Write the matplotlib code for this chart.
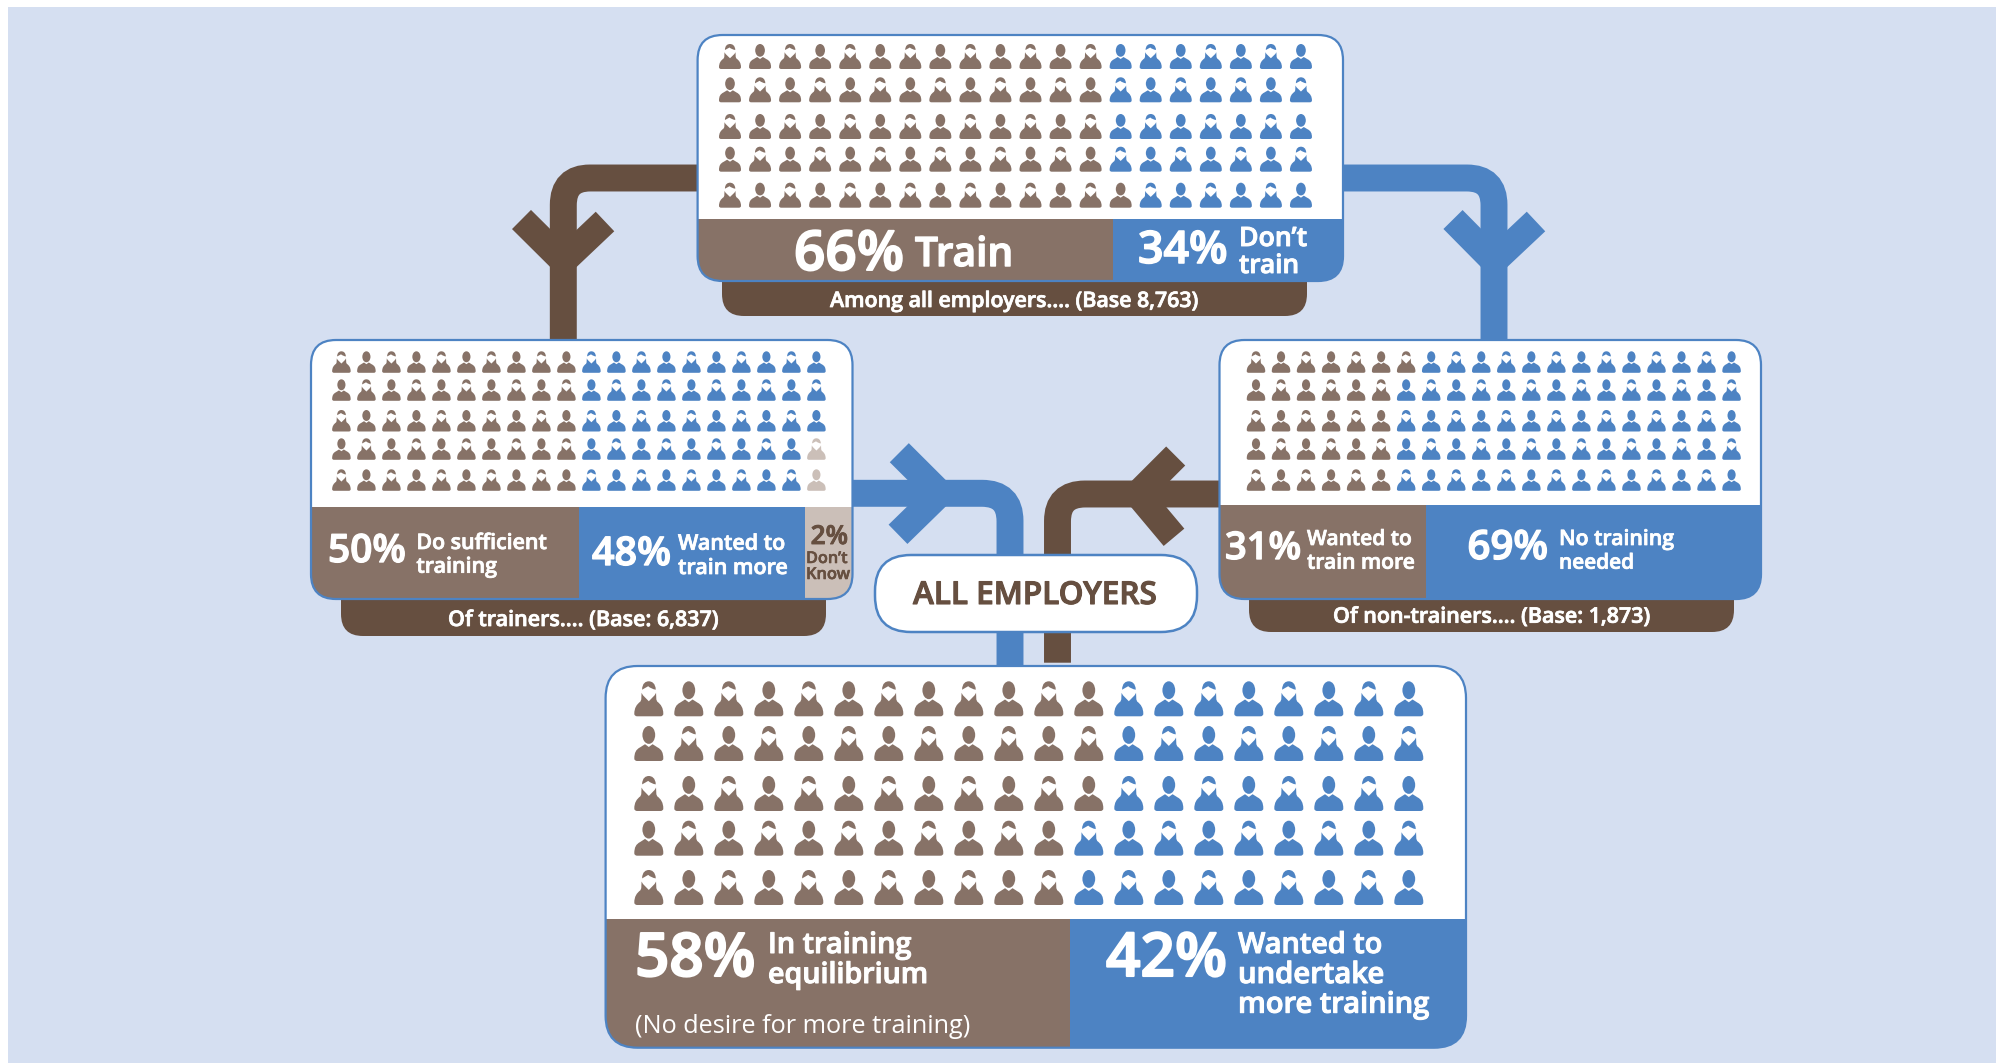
import matplotlib
matplotlib.use("Agg")
import matplotlib.pyplot as plt
import matplotlib.patheffects as pe
from matplotlib.patches import FancyBboxPatch, PathPatch, Rectangle
from matplotlib.path import Path
from matplotlib.transforms import Affine2D

# icons per row in each colour (20 columns, 5 rows)
TOP_BROWN = [13, 13, 13, 13, 14]
TOP_BLUE = [7, 7, 7, 7, 6]
LEFT_BROWN = [10, 10, 10, 10, 10]
LEFT_BLUE = [10, 10, 10, 9, 9]
LEFT_GREY = [0, 0, 0, 1, 1]
RIGHT_BROWN = [7, 6, 6, 6, 6]
RIGHT_BLUE = [13, 14, 14, 14, 14]
BOTTOM_BROWN = [12, 12, 12, 11, 11]
BOTTOM_BLUE = [8, 8, 8, 9, 9]

TOP_LABELS = ["66%", "Train", "34%", "Don’t", "train"]
LEFT_LABELS = ["50%", "Do sufficient", "training", "48%", "Wanted to", "train more"]
LEFT_GREY_LABELS = ["2%", "Don’t", "Know"]
RIGHT_LABELS = ["31%", "Wanted to", "train more", "69%", "No training", "needed"]
BOTTOM_LABELS = ["58%", "In training", "equilibrium", "42%", "Wanted to", "undertake", "more training"]
BOTTOM_NOTE = "(No desire for more training)"
TOP_BASE = "Among all employers.... (Base 8,763)"
LEFT_BASE = "Of trainers.... (Base: 6,837)"
RIGHT_BASE = "Of non-trainers.... (Base: 1,873)"
CENTRE_LABEL = "ALL EMPLOYERS"

BG = "#D5DFF1"
DARK = "#664F40"
BROWN = "#877267"
BLUE = "#4D83C3"
GREY = "#CBBFB8"
FONT = "Open Sans"

M, L, C3, C4, Z = Path.MOVETO, Path.LINETO, Path.CURVE3, Path.CURVE4, Path.CLOSEPOLY

fig = plt.figure(figsize=(19.96, 10.63), dpi=100)
ax = fig.add_axes([0, 0, 1, 1])
ax.set_xlim(0, 1996)
ax.set_ylim(1063, 0)
ax.axis("off")
renderer = fig.canvas.get_renderer()

ax.add_patch(Rectangle((8, 7), 1988, 1056, fc=BG, ec="none", zorder=0))


def make_man():
    head = Path.unit_circle().transformed(Affine2D().scale(0.22, 0.255).translate(0, 0.255))
    body = Path(
        [(-0.5, 0.93), (-0.5, 0.76), (-0.44, 0.67), (-0.3, 0.61), (-0.13, 0.52), (0, 0.6),
         (0.13, 0.52), (0.3, 0.61), (0.44, 0.67), (0.5, 0.76), (0.5, 0.93),
         (0.5, 1), (0.4, 1), (-0.4, 1), (-0.5, 1), (-0.5, 0.93), (-0.5, 0.93)],
        [M, C4, C4, C4, L, L, L, L, C4, C4, C4, C3, C3, L, C3, C3, Z],
    )
    return Path.make_compound_path(head, body)


def make_woman():
    cap = Path(
        [(-0.23, 0.24), (-0.23, 0.05), (-0.1, 0), (0, 0), (0.1, 0), (0.23, 0.05), (0.24, 0.24),
         (0.08, 0.22), (-0.02, 0.14), (-0.23, 0.24), (-0.23, 0.24)],
        [M, C4, C4, C4, C4, C4, C4, C3, C3, L, Z],
    )
    body = Path(
        [(-0.5, 0.93), (-0.5, 0.76), (-0.42, 0.66), (-0.29, 0.58), (-0.26, 0.52), (-0.25, 0.33),
         (-0.2, 0.4), (0, 0.57), (0.2, 0.4), (0.25, 0.33), (0.26, 0.52), (0.29, 0.58),
         (0.42, 0.66), (0.5, 0.76), (0.5, 0.93), (0.5, 1), (0.4, 1), (-0.4, 1), (-0.5, 1),
         (-0.5, 0.93), (-0.5, 0.93)],
        [M, C4, C4, C4, L, L, L, L, L, L, L, L, C4, C4, C4, C3, C3, L, C3, C3, Z],
    )
    return Path.make_compound_path(cap, body)


MAN = make_man()
WOMAN = make_woman()


def icons(x_first, pitch, tops, w, h, groups):
    # groups is a list of (counts per row, colour)
    for r, top in enumerate(tops):
        colours = []
        for counts, colour in groups:
            colours += [colour] * counts[r]
        for c, colour in enumerate(colours):
            shape = WOMAN if (r + c) % 2 == 0 else MAN
            tr = Affine2D().scale(w, h).translate(x_first + c * pitch, top)
            ax.add_patch(PathPatch(shape.transformed(tr), fc=colour, ec="none", zorder=5))


def panel(x0, x1, y0, y1, divider, splits, tab=None, r=25):
    if tab is not None:
        ax.add_patch(FancyBboxPatch((tab[0], y1 - 40), tab[1] - tab[0], tab[2] - y1 + 40,
                                    boxstyle="round,pad=0,rounding_size=22",
                                    fc=DARK, ec="none", zorder=2))
    box = FancyBboxPatch((x0, y0), x1 - x0, y1 - y0, boxstyle=f"round,pad=0,rounding_size={r}",
                         fc="white", ec="none", zorder=3)
    ax.add_patch(box)
    for a, b, colour in splits:
        band = Rectangle((a, divider), b - a, y1 - divider, fc=colour, ec="none", zorder=4)
        ax.add_patch(band)
        band.set_clip_path(box)
    ax.add_patch(FancyBboxPatch((x0, y0), x1 - x0, y1 - y0,
                                boxstyle=f"round,pad=0,rounding_size={r}",
                                fc="none", ec=BLUE, lw=1.6, zorder=6))


def pipe(points, codes, colour):
    ax.add_patch(PathPatch(Path(points, codes), fc="none", ec=colour, lw=19.4,
                           capstyle="butt", joinstyle="miter", zorder=1))


def put(x0, x1, base, s, colour="white", weight="semibold"):
    # font size is fitted so the text spans x0..x1, a thin stroke adds the missing weight
    t = ax.text(x0, base, s, color=colour, family=FONT, weight=weight, fontsize=20,
                ha="left", va="baseline", zorder=7)
    width = t.get_window_extent(renderer).width
    size = 20 * (x1 - x0) / width
    t.set_fontsize(size)
    if weight == "semibold":
        t.set_path_effects([pe.withStroke(linewidth=size * 0.035, foreground=colour)])
    return t


# arrows
pipe([(697, 178), (590, 178), (563.3, 178), (563.3, 205), (563.3, 340)], [M, L, C3, C3, L], DARK)
pipe([(521.5, 219.5), (563.3, 261), (605, 221.5)], [M, L, L], DARK)
pipe([(1343, 178), (1467, 178), (1494, 178), (1494, 205), (1494, 340)], [M, L, C3, C3, L], BLUE)
pipe([(1453, 219.5), (1494, 261), (1536, 221.5)], [M, L, L], BLUE)
pipe([(852, 493.3), (982, 493.3), (1010, 493.3), (1010, 521), (1010, 668)], [M, L, C3, C3, L], BLUE)
pipe([(899.3, 452.7), (940, 493.3), (898, 534.3)], [M, L, L], BLUE)
pipe([(1219, 494), (1085, 494), (1057.5, 494), (1057.5, 521), (1057.5, 662.7)], [M, L, C3, C3, L], DARK)
pipe([(1175.7, 456), (1137.7, 494), (1174, 537.3)], [M, L, L], DARK)

# top panel
panel(697.6, 1343, 35, 281, 219, [(697.6, 1113, BROWN), (1113, 1343, BLUE)], tab=(722, 1307, 316))
icons(730, 30.05, [44, 77.3, 114, 146.7, 182.7], 22, 25, [(TOP_BROWN, BROWN), (TOP_BLUE, BLUE)])
put(794, 904, 270, TOP_LABELS[0])
put(915, 1013, 266, TOP_LABELS[1])
put(1138, 1227.5, 263, TOP_LABELS[2])
put(1239, 1307, 246, TOP_LABELS[3])
put(1239, 1299, 273, TOP_LABELS[4])
put(830, 1197, 307, TOP_BASE)

# trainers panel
panel(311, 852.5, 340, 599, 507, [(311, 579, BROWN), (579, 805, BLUE), (805, 852.5, GREY)],
      tab=(341, 826, 636))
icons(341.4, 25, [351.3, 379.3, 410, 438.3, 469.3], 18.5, 21.5,
      [(LEFT_BROWN, BROWN), (LEFT_BLUE, BLUE), (LEFT_GREY, GREY)])
put(328, 406, 562, LEFT_LABELS[0])
put(416.4, 547, 549, LEFT_LABELS[1])
put(416.4, 497, 572.7, LEFT_LABELS[2])
put(592, 671, 565, LEFT_LABELS[3])
put(678, 785, 549.7, LEFT_LABELS[4])
put(678, 787.5, 574, LEFT_LABELS[5])
put(810.7, 848, 544, LEFT_GREY_LABELS[0], colour=DARK)
put(806, 847.5, 563, LEFT_GREY_LABELS[1], colour=DARK)
put(806, 850, 579, LEFT_GREY_LABELS[2], colour=DARK)
put(448, 718, 626, LEFT_BASE)

# non-trainers panel
panel(1219.5, 1761, 340, 599, 505, [(1219.5, 1426, BROWN), (1426, 1761, BLUE)], tab=(1249, 1734, 632))
icons(1256, 25.03, [351.3, 379.3, 410, 438.3, 469.3], 18.5, 21.5,
      [(RIGHT_BROWN, BROWN), (RIGHT_BLUE, BLUE)])
put(1225, 1301, 559, RIGHT_LABELS[0])
put(1307, 1411.6, 545, RIGHT_LABELS[1])
put(1307, 1414.6, 568.7, RIGHT_LABELS[2])
put(1467.5, 1548, 559, RIGHT_LABELS[3])
put(1559, 1674, 545, RIGHT_LABELS[4])
put(1559, 1634, 568.7, RIGHT_LABELS[5])
put(1333, 1649.5, 622.7, RIGHT_BASE)

# bottom panel
panel(605.6, 1466, 666, 1047.7, 918.7, [(605.6, 1069.7, BROWN), (1069.7, 1466, BLUE)], r=32)
icons(648.8, 40, [681.3, 726, 776, 820.7, 870], 29, 35, [(BOTTOM_BROWN, BROWN), (BOTTOM_BLUE, BLUE)])
put(635, 755.4, 976, BOTTOM_LABELS[0])
put(768, 911.5, 953, BOTTOM_LABELS[1])
put(768, 928, 983, BOTTOM_LABELS[2])
put(1106, 1227, 976, BOTTOM_LABELS[3])
put(1238, 1382, 953, BOTTOM_LABELS[4])
put(1238, 1384, 983, BOTTOM_LABELS[5])
put(1238, 1429, 1012.7, BOTTOM_LABELS[6])
put(635, 970, 1033, BOTTOM_NOTE, weight="normal")

# centre pill
ax.add_patch(FancyBboxPatch((875, 555), 322, 77, boxstyle="round,pad=0,rounding_size=36",
                            fc="white", ec=BLUE, lw=1.8, zorder=6))
put(913, 1157, 604, CENTRE_LABEL, colour=DARK)

fig.savefig("out.png", dpi=100, facecolor="white")
